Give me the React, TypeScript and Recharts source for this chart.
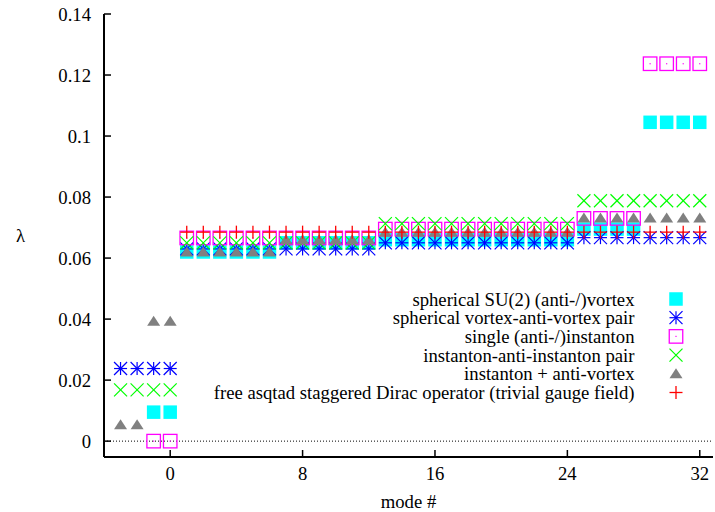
import React from 'react';
import { ScatterChart, Scatter, XAxis, YAxis, ReferenceLine, Legend } from 'recharts';

const W = 715;
const H = 512;
const FONT = '"Liberation Serif", "Times New Roman", Times, serif';
const FS = 18.7;
const TICK = 7;
const X_MARGIN = 10;
const Y_MARGIN = 13;

const xDomain = [-4, 32.8];
const yDomain = [-0.0052, 0.14];
const xTicks = [0, 8, 16, 24, 32];
const yTicks = [0, 0.02, 0.04, 0.06, 0.08, 0.1, 0.12, 0.14];

// mode numbers
const modesLeft4 = [-3, -2, -1, 0];
const modesLeft2 = [-1, 0];
const modesRight = [1, 2, 3, 4, 5, 6, 7, 8, 9, 10, 11, 12, 13, 14, 15, 16, 17, 18, 19, 20, 21, 22, 23, 24, 25, 26, 27, 28, 29, 30, 31, 32];

// spherical SU(2) (anti-/)vortex
const su2Modes = [...modesLeft2, ...modesRight];
const su2Vals = [
  0.0095, 0.0095,
  0.062, 0.062, 0.062, 0.062, 0.062, 0.062,
  0.065, 0.065, 0.065, 0.065, 0.065, 0.065,
  0.066, 0.066, 0.066, 0.066, 0.066, 0.066, 0.066, 0.066, 0.066, 0.066, 0.066, 0.066,
  0.0695, 0.0695, 0.0695, 0.0695,
  0.1045, 0.1045, 0.1045, 0.1045,
];

// spherical vortex-anti-vortex pair
const vavModes = [...modesLeft4, ...modesRight];
const vavVals = [
  0.0238, 0.0238, 0.0238, 0.0238,
  0.063, 0.063, 0.063, 0.063, 0.063, 0.063, 0.063, 0.063, 0.063, 0.063, 0.063, 0.063,
  0.065, 0.065, 0.065, 0.065, 0.065, 0.065, 0.065, 0.065, 0.065, 0.065, 0.065, 0.065,
  0.0667, 0.0667, 0.0667, 0.0667, 0.0667, 0.0667, 0.0667, 0.0667,
];

// single (anti-/)instanton
const instModes = [...modesLeft2, ...modesRight];
const instVals = [
  0, 0,
  0.0666, 0.0666, 0.0666, 0.0666, 0.0666, 0.0666, 0.0666, 0.0666, 0.0666, 0.0666, 0.0666, 0.0666,
  0.0695, 0.0695, 0.0695, 0.0695, 0.0695, 0.0695, 0.0695, 0.0695, 0.0695, 0.0695, 0.0695, 0.0695,
  0.073, 0.073, 0.073, 0.073,
  0.1237, 0.1237, 0.1237, 0.1237,
];

// instanton-anti-instanton pair
const iaiModes = [...modesLeft4, ...modesRight];
const iaiVals = [
  0.0168, 0.0168, 0.0168, 0.0168,
  0.065, 0.065, 0.065, 0.065, 0.065, 0.065, 0.065, 0.065, 0.065, 0.065, 0.065, 0.065,
  0.0713, 0.0713, 0.0713, 0.0713, 0.0713, 0.0713, 0.0713, 0.0713, 0.0713, 0.0713, 0.0713, 0.0713,
  0.0788, 0.0788, 0.0788, 0.0788, 0.0788, 0.0788, 0.0788, 0.0788,
];

// instanton + anti-vortex
const iavModes = [...modesLeft4, ...modesRight];
const iavVals = [
  0.0054, 0.0054, 0.0393, 0.0393,
  0.062, 0.062, 0.062, 0.062, 0.062, 0.062,
  0.066, 0.066, 0.066, 0.066, 0.066, 0.066,
  0.0685, 0.0685, 0.0685, 0.0685, 0.0685, 0.0685, 0.0685, 0.0685, 0.0685, 0.0685, 0.0685, 0.0685,
  0.0731, 0.0731, 0.0731, 0.0731, 0.0731, 0.0731, 0.0731, 0.0731,
];

// free asqtad staggered Dirac operator (trivial gauge field)
const freeModes = [...modesRight];
const freeVals = [
  0.0685, 0.0685, 0.0685, 0.0685, 0.0685, 0.0685, 0.0685, 0.0685, 0.0685, 0.0685, 0.0685, 0.0685,
  0.0685, 0.0685, 0.0685, 0.0685, 0.0685, 0.0685, 0.0685, 0.0685, 0.0685, 0.0685, 0.0685, 0.0685,
  0.0685, 0.0685, 0.0685, 0.0685, 0.0685, 0.0685, 0.0685, 0.0685,
];

const toPoints = (xs: number[], ys: number[]) => xs.map((x, i) => ({ x, y: ys[i] }));

type P = { cx?: number; cy?: number };

const CyanSquare = ({ cx = 0, cy = 0 }: P) => (
  <rect x={cx - 6.75} y={cy - 6.75} width={13.5} height={13.5} fill="#00ffff" />
);
const BlueStar = ({ cx = 0, cy = 0 }: P) => (
  <g stroke="#0000ff" strokeWidth={1.2}>
    <line x1={cx - 6.5} y1={cy} x2={cx + 6.5} y2={cy} />
    <line x1={cx} y1={cy - 6.5} x2={cx} y2={cy + 6.5} />
    <line x1={cx - 6.5} y1={cy - 6.5} x2={cx + 6.5} y2={cy + 6.5} />
    <line x1={cx - 6.5} y1={cy + 6.5} x2={cx + 6.5} y2={cy - 6.5} />
  </g>
);
const MagentaBox = ({ cx = 0, cy = 0 }: P) => (
  <g>
    <rect x={cx - 6.75} y={cy - 6.75} width={13.5} height={13.5} fill="none" stroke="#ff00ff" strokeWidth={1.3} />
    <rect x={cx - 0.6} y={cy - 0.6} width={1.2} height={1.2} fill="#ff00ff" />
  </g>
);
const GreenX = ({ cx = 0, cy = 0 }: P) => (
  <g stroke="#00ff00" strokeWidth={1.2}>
    <line x1={cx - 6.5} y1={cy - 6.5} x2={cx + 6.5} y2={cy + 6.5} />
    <line x1={cx - 6.5} y1={cy + 6.5} x2={cx + 6.5} y2={cy - 6.5} />
  </g>
);
const GrayTriangle = ({ cx = 0, cy = 0 }: P) => (
  <polygon points={`${cx},${cy - 5.5} ${cx - 6.5},${cy + 4.5} ${cx + 6.5},${cy + 4.5}`} fill="#808080" />
);
const RedPlus = ({ cx = 0, cy = 0 }: P) => (
  <g stroke="#ff0000" strokeWidth={1.3}>
    <line x1={cx - 6.5} y1={cy} x2={cx + 6.5} y2={cy} />
    <line x1={cx} y1={cy - 6.5} x2={cx} y2={cy + 6.5} />
  </g>
);

const SERIES = [
  { name: 'spherical SU(2) (anti-/)vortex', data: toPoints(su2Modes, su2Vals), Shape: CyanSquare, color: '#00ffff' },
  { name: 'spherical vortex-anti-vortex pair', data: toPoints(vavModes, vavVals), Shape: BlueStar, color: '#0000ff' },
  { name: 'single (anti-/)instanton', data: toPoints(instModes, instVals), Shape: MagentaBox, color: '#ff00ff' },
  { name: 'instanton-anti-instanton pair', data: toPoints(iaiModes, iaiVals), Shape: GreenX, color: '#00ff00' },
  { name: 'instanton + anti-vortex', data: toPoints(iavModes, iavVals), Shape: GrayTriangle, color: '#808080' },
  { name: 'free asqtad staggered Dirac operator (trivial gauge field)', data: toPoints(freeModes, freeVals), Shape: RedPlus, color: '#ff0000' },
];

const BottomTick = (props: any) => {
  const { x, y, payload } = props;
  const ay = y - X_MARGIN;
  return (
    <g>
      <line x1={x} y1={ay} x2={x} y2={ay - TICK} stroke="#000" strokeWidth={1.5} />
      <text x={x} y={y} dy="0.71em" textAnchor="middle" fontFamily={FONT} fontSize={FS} fill="#000">
        {String(payload.value)}
      </text>
    </g>
  );
};
const TopTick = (props: any) => {
  const { x, y } = props;
  return <line x1={x} y1={y} x2={x} y2={y + TICK} stroke="#000" strokeWidth={1.5} />;
};
const LeftTick = (props: any) => {
  const { x, y, payload } = props;
  const ax = x + Y_MARGIN;
  return (
    <g>
      <line x1={ax} y1={y} x2={ax + TICK} y2={y} stroke="#000" strokeWidth={1.5} />
      <text x={x} y={y} dy="0.35em" textAnchor="end" fontFamily={FONT} fontSize={FS} fill="#000">
        {String(payload.value)}
      </text>
    </g>
  );
};
const RightTick = (props: any) => {
  const { x, y } = props;
  return <line x1={x} y1={y} x2={x - TICK} y2={y} stroke="#000" strokeWidth={1.5} />;
};

const LEG_TEXT_X = 634.5;
const LEG_SYM_X = 676;
const LEG_Y0 = 299;
const LEG_DY = 18.7;

const LegendBox = () => (
  <svg width={W} height={H} style={{ position: 'absolute', left: 0, top: 0, overflow: 'visible' }}>
    {SERIES.map((s, i) => {
      const cy = LEG_Y0 + i * LEG_DY;
      const Shape = s.Shape;
      return (
        <g key={s.name}>
          <text x={LEG_TEXT_X} y={cy} dy="0.35em" textAnchor="end" fontFamily={FONT} fontSize={FS} fill="#000">
            {s.name}
          </text>
          <Shape cx={LEG_SYM_X} cy={cy} />
        </g>
      );
    })}
  </svg>
);

const axisLine = { stroke: '#000', strokeWidth: 2 };

export default function App() {
  return (
    <div style={{ position: 'absolute', left: 0, top: 0, width: W, height: H, background: '#fff' }}>
      <ScatterChart width={W} height={H} margin={{ top: 14, right: 2, bottom: 0, left: 0 }}>
        <XAxis
          xAxisId="b"
          type="number"
          dataKey="x"
          domain={xDomain}
          ticks={xTicks}
          allowDataOverflow
          orientation="bottom"
          height={55}
          tickSize={0}
          tickMargin={X_MARGIN}
          tickLine={false}
          axisLine={axisLine}
          tick={<BottomTick />}
          interval={0}
          label={{ value: 'mode #', position: 'insideBottom', offset: 4, fontFamily: FONT, fontSize: FS, fill: '#000' }}
        />
        <XAxis
          xAxisId="t"
          type="number"
          dataKey="x"
          domain={xDomain}
          ticks={xTicks}
          allowDataOverflow
          orientation="top"
          height={0}
          tickSize={0}
          tickMargin={0}
          tickLine={false}
          axisLine={axisLine}
          tick={<TopTick />}
          interval={0}
        />
        <YAxis
          yAxisId="l"
          type="number"
          dataKey="y"
          domain={yDomain}
          ticks={yTicks}
          allowDataOverflow
          orientation="left"
          width={104}
          tickSize={0}
          tickMargin={Y_MARGIN}
          tickLine={false}
          axisLine={axisLine}
          tick={<LeftTick />}
          interval={0}
          label={{ value: 'λ', position: 'insideLeft', offset: 16, fontFamily: FONT, fontSize: FS, fill: '#000' }}
        />
        <YAxis
          yAxisId="r"
          type="number"
          dataKey="y"
          domain={yDomain}
          ticks={yTicks}
          allowDataOverflow
          orientation="right"
          width={0}
          tickSize={0}
          tickMargin={0}
          tickLine={false}
          axisLine={axisLine}
          tick={<RightTick />}
          interval={0}
        />
        <ReferenceLine xAxisId="b" yAxisId="l" y={0} stroke="#000" strokeDasharray="1 2" strokeWidth={1} />
        {SERIES.map((s) => (
          <Scatter
            key={s.name}
            name={s.name}
            xAxisId="b"
            yAxisId="l"
            data={s.data}
            fill={s.color}
            shape={(p: any) => <s.Shape cx={p.cx} cy={p.cy} />}
            isAnimationActive={false}
          />
        ))}
        <Legend
          layout="vertical"
          align="center"
          verticalAlign="middle"
          wrapperStyle={{ position: 'absolute', left: 0, top: 0, width: W, height: H, pointerEvents: 'none' }}
          content={() => <LegendBox />}
        />
      </ScatterChart>
    </div>
  );
}
